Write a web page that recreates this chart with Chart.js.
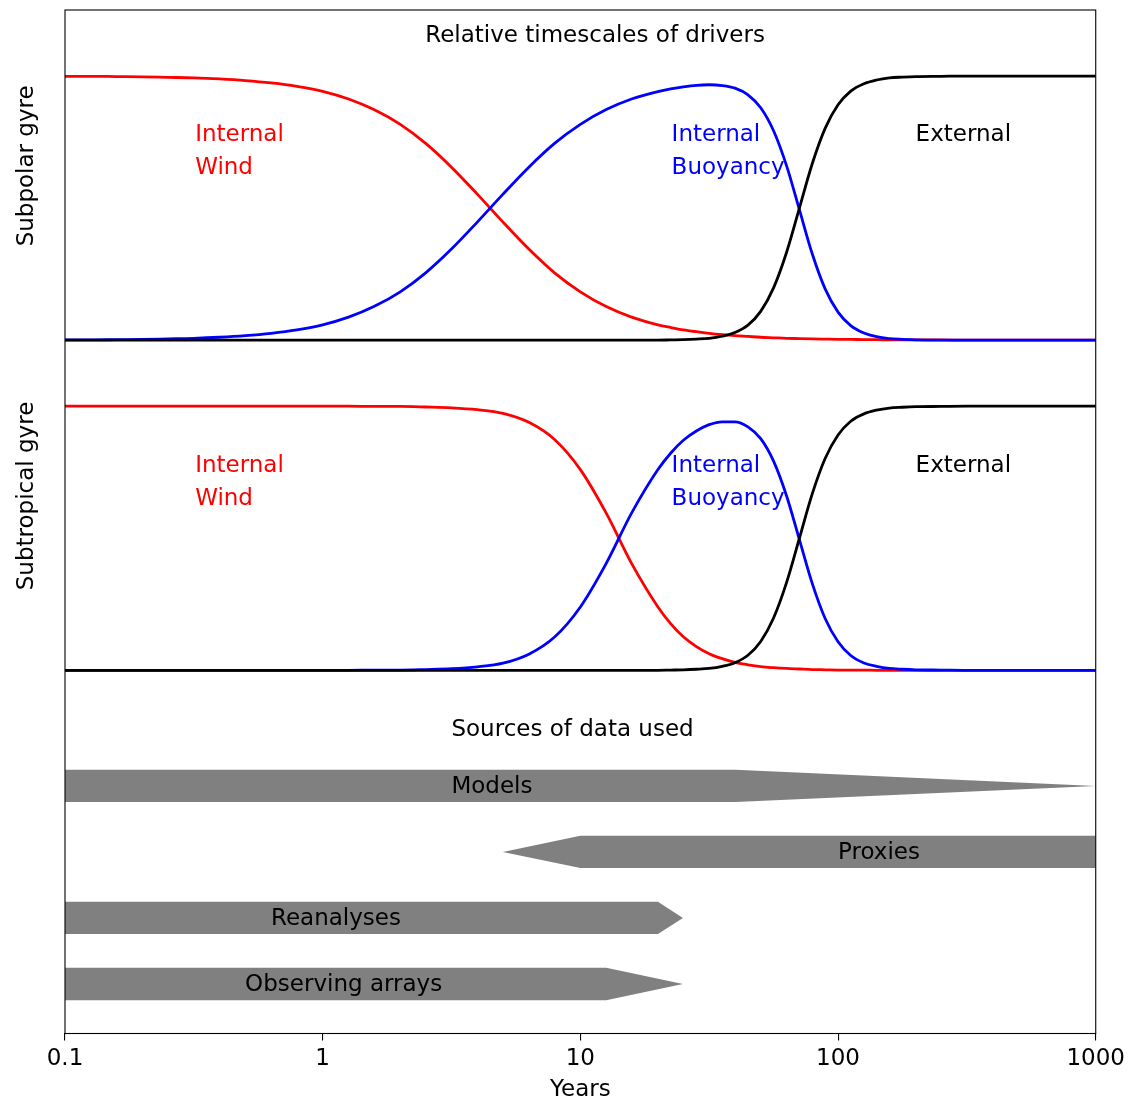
<!DOCTYPE html>
<html>
<head>
<meta charset="utf-8">
<script src="https://cdn.jsdelivr.net/npm/chart.js@4/dist/chart.umd.min.js"></script>
<style>
html,body{margin:0;padding:0;background:#fff;}
#wrap{width:1130px;height:1104px;position:relative;}
</style>
</head>
<body>
<div id="wrap"><canvas id="c" width="1130" height="1104"></canvas></div>
<script>
// ---------- data ----------
const years = [0.1, 0.126, 0.158, 0.2, 0.251, 0.316, 0.398, 0.501, 0.631, 0.794,
  1, 1.26, 1.58, 2, 2.51, 3.16, 3.98, 5.01, 6.31, 7.94,
  10, 12.6, 15.8, 20, 22.4, 25.1, 28.2, 31.6, 35.5, 39.8,
  44.7, 50.1, 56.2, 63.1, 70.8, 79.4, 89.1, 100, 112, 126,
  141, 158, 178, 200, 251, 316, 398, 501, 631, 794, 1000];

const subpolarWind = [0.999, 0.999, 0.998, 0.997, 0.995, 0.993, 0.989, 0.983, 0.974, 0.961,
  0.942, 0.913, 0.873, 0.817, 0.745, 0.655, 0.553, 0.447, 0.345, 0.255,
  0.183, 0.127, 0.087, 0.058, 0.048, 0.039, 0.032, 0.026, 0.021, 0.017,
  0.014, 0.011, 0.009, 0.007, 0.006, 0.005, 0.004, 0.003, 0.003, 0.002,
  0.002, 0.001, 0.001, 0.001, 0.001, 0, 0, 0, 0, 0, 0];
const subpolarBuoyancy = [0.001, 0.001, 0.002, 0.003, 0.005, 0.007, 0.011, 0.017, 0.026, 0.039,
  0.058, 0.087, 0.127, 0.183, 0.255, 0.345, 0.447, 0.553, 0.655, 0.745,
  0.817, 0.873, 0.913, 0.941, 0.951, 0.959, 0.965, 0.967, 0.964, 0.954,
  0.929, 0.880, 0.793, 0.661, 0.494, 0.327, 0.194, 0.106, 0.055, 0.027,
  0.013, 0.006, 0.003, 0.001, 0, 0, 0, 0, 0, 0, 0];
const subpolarExternal = [0, 0, 0, 0, 0, 0, 0, 0, 0, 0,
  0, 0, 0, 0, 0, 0, 0, 0, 0, 0,
  0, 0, 0, 0, 0.001, 0.002, 0.004, 0.007, 0.015, 0.029,
  0.057, 0.109, 0.198, 0.332, 0.5, 0.668, 0.802, 0.891, 0.943, 0.971,
  0.985, 0.993, 0.996, 0.998, 0.999, 1, 1, 1, 1, 1, 1];

const subtropicalWind = [1, 1, 1, 1, 1, 1, 1, 1, 1, 1,
  1, 1, 0.999, 0.999, 0.997, 0.994, 0.987, 0.973, 0.939, 0.874,
  0.760, 0.595, 0.405, 0.240, 0.177, 0.127, 0.090, 0.063, 0.044, 0.030,
  0.021, 0.014, 0.010, 0.007, 0.005, 0.003, 0.002, 0.001, 0.001, 0.001,
  0, 0, 0, 0, 0, 0, 0, 0, 0, 0, 0];
const subtropicalBuoyancy = [0, 0, 0, 0, 0, 0, 0, 0, 0, 0,
  0, 0, 0.001, 0.001, 0.003, 0.006, 0.013, 0.027, 0.061, 0.126,
  0.240, 0.405, 0.595, 0.760, 0.822, 0.871, 0.906, 0.930, 0.941, 0.941,
  0.922, 0.877, 0.792, 0.661, 0.495, 0.329, 0.196, 0.108, 0.056, 0.028,
  0.015, 0.007, 0.004, 0.002, 0.001, 0, 0, 0, 0, 0, 0];
const subtropicalExternal = [0, 0, 0, 0, 0, 0, 0, 0, 0, 0,
  0, 0, 0, 0, 0, 0, 0, 0, 0, 0,
  0, 0, 0, 0, 0.001, 0.002, 0.004, 0.007, 0.015, 0.029,
  0.057, 0.109, 0.198, 0.332, 0.5, 0.668, 0.802, 0.891, 0.943, 0.971,
  0.985, 0.993, 0.996, 0.998, 0.999, 1, 1, 1, 1, 1, 1];

const xTickValues = [0.1, 1, 10, 100, 1000];
const xTickLabels = ['0.1', '1', '10', '100', '1000'];

const sourceNames     = ['Models', 'Proxies', 'Reanalyses', 'Observing arrays'];
const sourceStart     = [0.1, 5, 0.1, 0.1];
const sourceFullFrom  = [0.1, 10, 0.1, 0.1];
const sourceFullTo    = [40, 1000, 20, 12.6];
const sourceEnd       = [1000, 1000, 25, 25];
const sourceLabelAt   = [3.16, 100, 0.63, 0.5];

const panelNames = ['Subpolar gyre', 'Subtropical gyre'];
const driverLabels = [['Internal', 'Wind'], ['Internal', 'Buoyancy'], ['External']];
const driverLabelAt = [0.32, 22.6, 200];
const titleTop = 'Relative timescales of drivers';
const titleTopAt = 2.5;
const titleSources = 'Sources of data used';
const titleSourcesAt = 3.16;

// ---------- styling / layout ----------
const FONT = '"DejaVu Sans"';
const FS = 23;
const RED = '#ff0000', BLUE = '#0000ff', BLACK = '#000000', GREY = '#808080';
const driverColors = [RED, BLUE, BLACK];

Chart.defaults.font.family = FONT;
Chart.defaults.font.size = FS;
Chart.defaults.color = '#000';

function curve(label, values, color, axis, order) {
  return {
    label, yAxisID: axis, order,
    data: years.map((x, i) => ({x, y: values[i]})),
    borderColor: color, borderWidth: 2.8, pointRadius: 0, fill: false,
    cubicInterpolationMode: 'monotone'
  };
}

const datasets = [
  curve('Subpolar internal wind', subpolarWind, RED, 'ySub', 3),
  curve('Subpolar internal buoyancy', subpolarBuoyancy, BLUE, 'ySub', 2),
  curve('Subpolar external', subpolarExternal, BLACK, 'ySub', 1),
  curve('Subtropical internal wind', subtropicalWind, RED, 'yTrop', 3),
  curve('Subtropical internal buoyancy', subtropicalBuoyancy, BLUE, 'yTrop', 2),
  curve('Subtropical external', subtropicalExternal, BLACK, 'yTrop', 1)
];

const HALF = 0.245;
sourceNames.forEach((name, i) => {
  const row = sourceNames.length - i;
  datasets.push({
    label: name, yAxisID: 'y', order: 10,
    data: [
      {x: sourceStart[i], y: row},
      {x: sourceFullFrom[i], y: row + HALF},
      {x: sourceFullTo[i], y: row + HALF},
      {x: sourceEnd[i], y: row},
      {x: sourceFullTo[i], y: row - HALF},
      {x: sourceFullFrom[i], y: row - HALF}
    ],
    borderWidth: 0, borderColor: 'rgba(0,0,0,0)', pointRadius: 0,
    tension: 0, fill: 'shape', backgroundColor: GREY
  });
});

const overlay = {
  id: 'overlay',
  afterDatasetsDraw(chart) {
    const {ctx, chartArea: a, scales} = chart;
    const x = scales.x, y = scales.y, ySub = scales.ySub, yTrop = scales.yTrop;
    ctx.save();
    ctx.font = FS + 'px ' + FONT;
    ctx.textBaseline = 'alphabetic';
    ctx.textAlign = 'left';

    // driver labels in both panels
    [ySub, yTrop].forEach(ps => {
      driverLabels.forEach((lines, k) => {
        ctx.fillStyle = driverColors[k];
        lines.forEach((t, j) => {
          ctx.fillText(t, x.getPixelForValue(driverLabelAt[k]), ps.getPixelForValue(0.7525 - 0.125 * j));
        });
      });
    });

    // section titles
    ctx.fillStyle = '#000';
    ctx.fillText(titleTop, x.getPixelForValue(titleTopAt), y.getPixelForValue(15.26));
    ctx.fillText(titleSources, x.getPixelForValue(titleSourcesAt), y.getPixelForValue(4.76));

    // source labels
    sourceNames.forEach((name, i) => {
      const row = sourceNames.length - i;
      ctx.fillText(name, x.getPixelForValue(sourceLabelAt[i]), y.getPixelForValue(row) + 0.29 * FS);
    });

    // rotated panel labels
    [ySub, yTrop].forEach((ps, k) => {
      ctx.save();
      ctx.translate(a.left - 32.5, ps.getPixelForValue(0.66));
      ctx.rotate(-Math.PI / 2);
      ctx.textAlign = 'center';
      ctx.fillText(panelNames[k], 0, 0);
      ctx.restore();
    });

    // frame
    ctx.strokeStyle = '#000';
    ctx.lineWidth = 1.1;
    ctx.strokeRect(a.left, a.top, a.right - a.left, a.bottom - a.top);
    ctx.restore();
  }
};

new Chart(document.getElementById('c'), {
  type: 'line',
  data: {datasets},
  options: {
    responsive: false,
    animation: false,
    devicePixelRatio: 1,
    layout: {padding: {left: 65, right: 34, top: 10, bottom: 0}},
    plugins: {legend: {display: false}, tooltip: {enabled: false}},
    scales: {
      x: {
        type: 'logarithmic', min: 0.1, max: 1000, position: 'bottom',
        afterBuildTicks: s => { s.ticks = xTickValues.map(v => ({value: v})); },
        afterFit: s => { s.height = 70.5; },
        ticks: {
          autoSkip: false, maxRotation: 0, padding: 5, color: '#000',
          font: {size: FS, family: FONT},
          callback: (v, i) => xTickLabels[i]
        },
        grid: {display: true, drawOnChartArea: false, drawTicks: true, tickLength: 7, color: '#000', lineWidth: 1.1},
        border: {display: true, color: '#000', width: 1.1},
        title: {display: true, text: 'Years', color: '#000', font: {size: FS, family: FONT}, padding: {top: 0, bottom: 0}}
      },
      y: {type: 'linear', display: false, min: 0.25, max: 15.75},
      ySub: {type: 'linear', display: false, min: -2.625, max: 1.25},
      yTrop: {type: 'linear', display: false, min: -1.375, max: 2.5}
    }
  },
  plugins: [overlay]
});
</script>
</body>
</html>
